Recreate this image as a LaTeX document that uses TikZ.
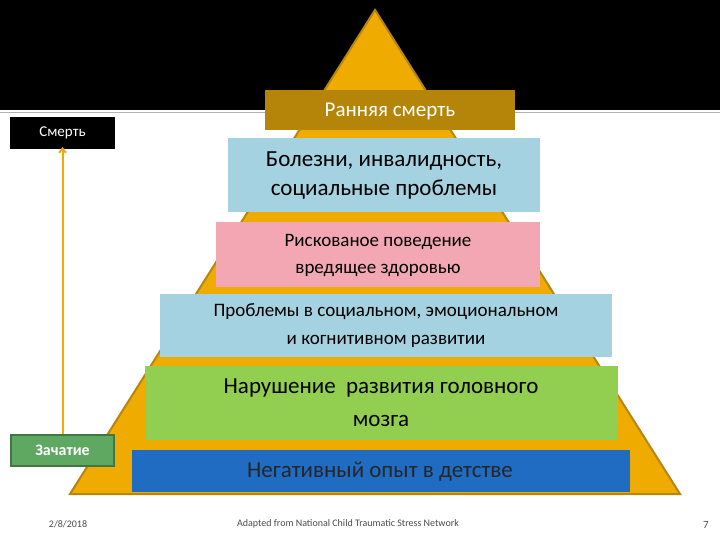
\documentclass[tikz,border=0pt]{standalone}
\usepackage{fontspec}
\setmainfont{Carlito}
\usetikzlibrary{arrows.meta}
\definecolor{gold}{HTML}{EFAB00}
\definecolor{golddk}{HTML}{B8860B}
\definecolor{topbox}{HTML}{B5850A}
\definecolor{lblue}{HTML}{A5D2E0}
\definecolor{pink}{HTML}{F2A7B3}
\definecolor{lgreen}{HTML}{92CF50}
\definecolor{dblue}{HTML}{1F6CC2}
\definecolor{zgreen}{HTML}{5FA862}
\tikzset{
  lvl/.style={anchor=north west,inner sep=0pt,align=center,font=#1},
}
\begin{document}
\begin{tikzpicture}[x=1pt,y=-1pt]
\useasboundingbox (0,0) rectangle (720,540);
\fill[white] (0,0) rectangle (720,540);
\fill[black] (0,0) rectangle (720,110);
\draw[gray!60,line width=1pt] (0,113) -- (720,113);
\filldraw[fill=gold,draw=golddk,line width=2pt] (375,10) -- (680,494) -- (70,494) -- cycle;
\newcommand\lbox[8]{%
  \fill[#6] (#2,#3) rectangle (#4,#5);
  \node[align=center,text=#7,font=#8,inner sep=0pt] (#1) at ({(#2+#4)/2},{(#3+#5)/2}) {\strut};}
\fill[topbox] (265,90) rectangle (515,130);
\node[text=white,font=\fontsize{21}{24}\selectfont] (b1) at (390,111) {Ранняя смерть};
\fill[lblue] (228,138) rectangle (540,212);
\node[align=center,font=\fontsize{23}{29}\selectfont] (b2) at (384,176) {Болезни, инвалидность,\\социальные проблемы};
\fill[pink] (216,222) rectangle (540,287);
\node[align=center,font=\fontsize{19}{27}\selectfont] (b3) at (378,255) {Рискованое поведение\\вредящее здоровью};
\fill[lblue] (160,294) rectangle (612,357);
\node[align=center,font=\fontsize{19}{28}\selectfont] (b4) at (386,326) {Проблемы в социальном, эмоциональном\\и когнитивном развитии};
\fill[lgreen] (145,366) rectangle (618,440);
\node[align=center,font=\fontsize{23}{33}\selectfont] (b5) at (381,403) {Нарушение\ \ развития головного\\мозга};
\fill[dblue] (132,450) rectangle (630,492);
\node[font=\fontsize{23}{26}\selectfont,text=black!85] (b6) at (380,472) {Негативный опыт в детстве};
\node[fill=black,text=white,minimum width=105pt,minimum height=32pt,inner sep=0pt,font=\fontsize{15}{17}\selectfont] (death) at (62.5,133) {Смерть};
\node[fill=zgreen,draw=zgreen!70!black,line width=1.5pt,text=white,minimum width=103pt,minimum height=31pt,inner sep=0pt,font=\bfseries\fontsize{16}{18}\selectfont] (birth) at (62.5,450.5) {Зачатие};
\draw[gold,line width=2pt,-{Straight Barb[length=4pt,width=7pt]}] (birth.north) -- ([yshift=2pt]death.south);
\node[font=\fontsize{10}{12}\selectfont,text=black!70] (date) at (68,524) {2/8/2018};
\node[font=\fontsize{10}{12}\selectfont,text=black!70] (src) at (348,524) {Adapted from National Child Traumatic Stress Network};
\node[font=\fontsize{11}{12}\selectfont,text=black!70] (pg) at (706,525) {7};
\end{tikzpicture}
\end{document}
